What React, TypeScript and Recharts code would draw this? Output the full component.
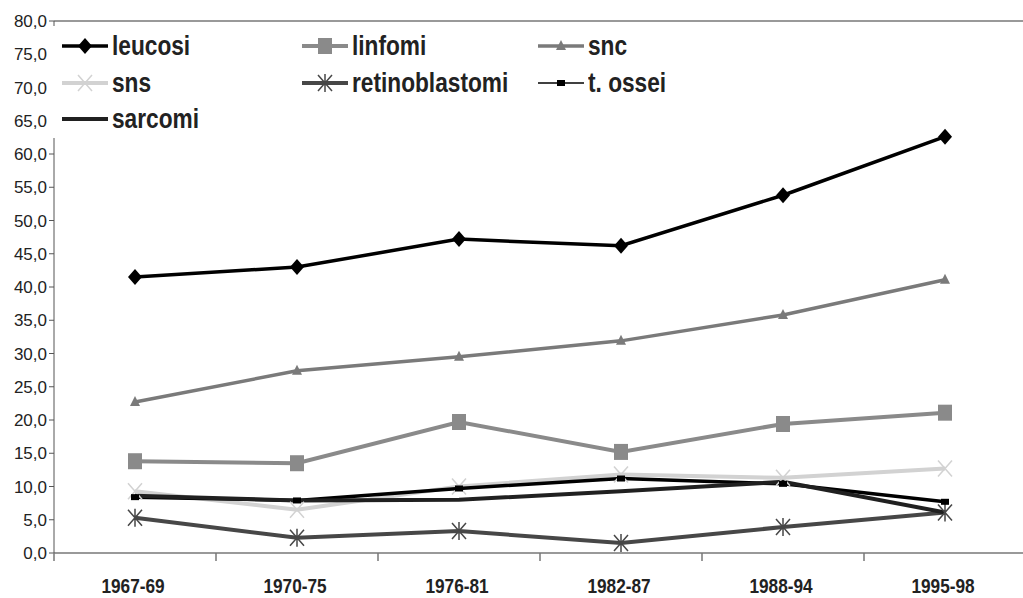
import React from "react";
import { CartesianGrid, Line, LineChart, ReferenceLine, XAxis, YAxis } from "recharts";

const categories = ["1967-69", "1970-75", "1976-81", "1982-87", "1988-94", "1995-98"];
const leucosi = [41.5, 43.0, 47.2, 46.2, 53.8, 62.6];
const linfomi = [13.8, 13.5, 19.7, 15.2, 19.4, 21.1];
const snc = [22.7, 27.4, 29.5, 31.9, 35.8, 41.1];
const sns = [9.3, 6.5, 10.0, 11.8, 11.3, 12.7];
const retinoblastomi = [5.3, 2.3, 3.3, 1.5, 3.9, 6.1];
const tOssei = [8.4, 7.9, 9.7, 11.2, 10.4, 7.7];
const sarcomi = [8.6, 7.9, 8.0, 9.3, 10.7, 6.1];
const yTicks = [0, 5, 10, 15, 20, 25, 30, 35, 40, 45, 50, 55, 60, 65, 70, 75, 80];

const data = categories.map((period, i) => ({
  period,
  leucosi: leucosi[i],
  linfomi: linfomi[i],
  snc: snc[i],
  sns: sns[i],
  retinoblastomi: retinoblastomi[i],
  tOssei: tOssei[i],
  sarcomi: sarcomi[i],
}));

const font = "'Liberation Sans', Arial, sans-serif";
const halfStep = 81;

type Kind = "diamond" | "square" | "triangle" | "cross" | "star" | "small" | "none";

function Marker({ kind, x, y, color }: { kind: Kind; x: number; y: number; color: string }) {
  switch (kind) {
    case "diamond":
      return <path d={`M${x},${y - 8} L${x + 7},${y} L${x},${y + 8} L${x - 7},${y} Z`} fill={color} />;
    case "square":
      return <rect x={x - 7} y={y - 8} width={14} height={16} fill={color} />;
    case "triangle":
      return <path d={`M${x},${y - 6} L${x + 5},${y + 4} L${x - 5},${y + 4} Z`} fill={color} />;
    case "cross":
      return (
        <path
          d={`M${x - 7},${y - 8} L${x + 7},${y + 8} M${x + 7},${y - 8} L${x - 7},${y + 8}`}
          stroke={color}
          strokeWidth={1.5}
          fill="none"
        />
      );
    case "star":
      return (
        <path
          d={`M${x - 7},${y - 8} L${x + 7},${y + 8} M${x + 7},${y - 8} L${x - 7},${y + 8} M${x},${y - 9} L${x},${y + 9}`}
          stroke={color}
          strokeWidth={1.5}
          fill="none"
        />
      );
    case "small":
      return <rect x={x - 4} y={y - 3} width={8} height={6} fill={color} />;
    default:
      return null;
  }
}

const dotFor = (kind: Kind, color: string) => (props: any) => {
  const { cx, cy, index } = props;
  if (cx == null || cy == null) return <g key={`d-${index}`} />;
  return (
    <g key={`d-${index}`}>
      <Marker kind={kind} x={cx} y={cy} color={color} />
    </g>
  );
};

const series: { key: string; name: string; color: string; width: number; kind: Kind }[] = [
  { key: "leucosi", name: "leucosi", color: "#000000", width: 3.5, kind: "diamond" },
  { key: "linfomi", name: "linfomi", color: "#8a8a8a", width: 4, kind: "square" },
  { key: "snc", name: "snc", color: "#7a7a7a", width: 3.5, kind: "triangle" },
  { key: "sns", name: "sns", color: "#d2d2d2", width: 4, kind: "cross" },
  { key: "retinoblastomi", name: "retinoblastomi", color: "#474747", width: 4, kind: "star" },
  { key: "tOssei", name: "t. ossei", color: "#000000", width: 3.5, kind: "small" },
  { key: "sarcomi", name: "sarcomi", color: "#202020", width: 4, kind: "none" },
];

const legendPos: { left: number; top: number }[] = [
  { left: 62, top: 46 },
  { left: 302, top: 46 },
  { left: 538, top: 46 },
  { left: 62, top: 83 },
  { left: 302, top: 83 },
  { left: 538, top: 83 },
  { left: 62, top: 119 },
];

function XTick(props: any) {
  const { x, y, payload, index } = props;
  return (
    <g>
      <line x1={x - halfStep} x2={x - halfStep} y1={y - 8} y2={y} stroke="#777" strokeWidth={1.5} />
      {index === categories.length - 1 && (
        <line x1={x + halfStep} x2={x + halfStep} y1={y - 8} y2={y} stroke="#777" strokeWidth={1.5} />
      )}
      <text
        transform={`translate(${x - 2},${y + 32}) scale(0.82,1)`}
        textAnchor="middle"
        fontFamily={font}
        fontWeight="bold"
        fontSize={21}
        fill="#222"
      >
        {payload.value}
      </text>
    </g>
  );
}

function LegendBox() {
  return (
    <div
      style={{
        position: "absolute",
        left: 48,
        top: 26,
        width: 660,
        height: 112,
        background: "#fff",
      }}
    >
      {series.map((s, i) => (
        <div
          key={s.key}
          style={{
            position: "absolute",
            left: legendPos[i].left - 48,
            top: legendPos[i].top - 26 - 16,
            height: 32,
            display: "flex",
            alignItems: "center",
          }}
        >
          <svg width={46} height={32}>
            <line
              x1={0}
              x2={46}
              y1={16}
              y2={16}
              stroke={s.color}
              strokeWidth={s.key === "tOssei" ? 1.5 : s.width}
            />
            <Marker kind={s.kind} x={23} y={16} color={s.color} />
          </svg>
          <span
            style={{
              fontFamily: font,
              fontWeight: "bold",
              fontSize: 27,
              color: "#222",
              marginLeft: 4,
              lineHeight: "32px",
              display: "inline-block",
              transform: "scaleX(0.84)",
              transformOrigin: "left center",
              whiteSpace: "nowrap",
            }}
          >
            {s.name}
          </span>
        </div>
      ))}
    </div>
  );
}

export default function App() {
  return (
    <div style={{ position: "absolute", left: 0, top: 0, width: 1023, height: 598, background: "#fff" }}>
      <LineChart width={1023} height={598} data={data} margin={{ top: 21, right: -3, bottom: 0, left: 0 }}>
        <CartesianGrid stroke="none" />
        <XAxis
          dataKey="period"
          height={45}
          padding={{ left: halfStep, right: halfStep }}
          axisLine={{ stroke: "#777", strokeWidth: 1.5 }}
          tickLine={false}
          tick={<XTick />}
          interval={0}
        />
        <YAxis
          width={54}
          domain={[0, 80]}
          ticks={yTicks}
          interval={0}
          tickFormatter={(v: number) => v.toFixed(1).replace(".", ",")}
          axisLine={{ stroke: "#555", strokeWidth: 1 }}
          tickLine={{ stroke: "#555" }}
          tickSize={5}
          tick={{ fill: "#222", fontSize: 17, fontFamily: font }}
        />
        <ReferenceLine y={80} stroke="#777" strokeWidth={1.5} />
        {series.map((s) => (
          <Line
            key={s.key}
            type="linear"
            dataKey={s.key}
            name={s.name}
            stroke={s.color}
            strokeWidth={s.width}
            dot={dotFor(s.kind, s.color)}
            activeDot={false}
            isAnimationActive={false}
          />
        ))}
      </LineChart>
      <LegendBox />
    </div>
  );
}
